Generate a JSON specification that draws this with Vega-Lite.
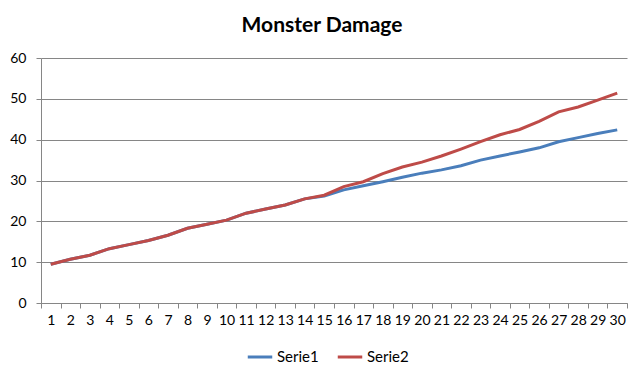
{
  "$schema": "https://vega.github.io/schema/vega-lite/v6.json",
  "width": 586,
  "height": 245,
  "autosize": {"type": "none"},
  "padding": {"left": 41, "top": 58, "right": 16, "bottom": 75},
  "background": "white",
  "title": {"text": "Monster Damage", "font": "Lato", "fontSize": 21, "fontWeight": "bold", "color": "#000000", "anchor": "middle", "dx": -12, "offset": 15},
  "config": {"view": {"stroke": null}, "font": "Lato"},
  "data": {"values": [
    {"x": 1, "s": "Serie1", "v": 9.5}, {"x": 1, "s": "Serie2", "v": 9.5},
    {"x": 2, "s": "Serie1", "v": 10.7}, {"x": 2, "s": "Serie2", "v": 10.7},
    {"x": 3, "s": "Serie1", "v": 11.7}, {"x": 3, "s": "Serie2", "v": 11.7},
    {"x": 4, "s": "Serie1", "v": 13.3}, {"x": 4, "s": "Serie2", "v": 13.3},
    {"x": 5, "s": "Serie1", "v": 14.3}, {"x": 5, "s": "Serie2", "v": 14.3},
    {"x": 6, "s": "Serie1", "v": 15.3}, {"x": 6, "s": "Serie2", "v": 15.3},
    {"x": 7, "s": "Serie1", "v": 16.6}, {"x": 7, "s": "Serie2", "v": 16.6},
    {"x": 8, "s": "Serie1", "v": 18.3}, {"x": 8, "s": "Serie2", "v": 18.3},
    {"x": 9, "s": "Serie1", "v": 19.3}, {"x": 9, "s": "Serie2", "v": 19.3},
    {"x": 10, "s": "Serie1", "v": 20.3}, {"x": 10, "s": "Serie2", "v": 20.3},
    {"x": 11, "s": "Serie1", "v": 22.0}, {"x": 11, "s": "Serie2", "v": 22.0},
    {"x": 12, "s": "Serie1", "v": 23.0}, {"x": 12, "s": "Serie2", "v": 23.0},
    {"x": 13, "s": "Serie1", "v": 24.0}, {"x": 13, "s": "Serie2", "v": 24.0},
    {"x": 14, "s": "Serie1", "v": 25.5}, {"x": 14, "s": "Serie2", "v": 25.5},
    {"x": 15, "s": "Serie1", "v": 26.2}, {"x": 15, "s": "Serie2", "v": 26.4},
    {"x": 16, "s": "Serie1", "v": 27.7}, {"x": 16, "s": "Serie2", "v": 28.5},
    {"x": 17, "s": "Serie1", "v": 28.7}, {"x": 17, "s": "Serie2", "v": 29.7},
    {"x": 18, "s": "Serie1", "v": 29.7}, {"x": 18, "s": "Serie2", "v": 31.7},
    {"x": 19, "s": "Serie1", "v": 30.8}, {"x": 19, "s": "Serie2", "v": 33.3},
    {"x": 20, "s": "Serie1", "v": 31.8}, {"x": 20, "s": "Serie2", "v": 34.5},
    {"x": 21, "s": "Serie1", "v": 32.6}, {"x": 21, "s": "Serie2", "v": 36.0},
    {"x": 22, "s": "Serie1", "v": 33.6}, {"x": 22, "s": "Serie2", "v": 37.7},
    {"x": 23, "s": "Serie1", "v": 35.0}, {"x": 23, "s": "Serie2", "v": 39.5},
    {"x": 24, "s": "Serie1", "v": 36.0}, {"x": 24, "s": "Serie2", "v": 41.2},
    {"x": 25, "s": "Serie1", "v": 37.0}, {"x": 25, "s": "Serie2", "v": 42.5},
    {"x": 26, "s": "Serie1", "v": 38.0}, {"x": 26, "s": "Serie2", "v": 44.5},
    {"x": 27, "s": "Serie1", "v": 39.5}, {"x": 27, "s": "Serie2", "v": 46.8},
    {"x": 28, "s": "Serie1", "v": 40.5}, {"x": 28, "s": "Serie2", "v": 48.0},
    {"x": 29, "s": "Serie1", "v": 41.5}, {"x": 29, "s": "Serie2", "v": 49.7},
    {"x": 30, "s": "Serie1", "v": 42.4}, {"x": 30, "s": "Serie2", "v": 51.4}
  ]},
  "mark": {"type": "line", "strokeWidth": 3, "interpolate": "linear"},
  "encoding": {
    "x": {"field": "x", "type": "ordinal", "sort": null,
      "scale": {"type": "band", "paddingInner": 0, "paddingOuter": 0},
      "axis": {"title": null, "labelAngle": 0, "labelFont": "Lato", "labelFontSize": 14, "labelColor": "#000000", "labelPadding": 5,
        "tickBand": "extent", "tickSize": 5, "tickColor": "#868686", "domainColor": "#868686", "grid": false, "labelOverlap": false}},
    "y": {"field": "v", "type": "quantitative",
      "scale": {"domain": [0, 60], "nice": false, "zero": true},
      "axis": {"title": null, "values": [0, 10, 20, 30, 40, 50, 60], "labelFont": "Lato", "labelFontSize": 14, "labelColor": "#000000", "labelPadding": 10,
        "tickSize": 5, "tickColor": "#868686", "domainColor": "#868686", "grid": true, "gridColor": "#868686", "gridOpacity": 1}},
    "color": {"field": "s", "type": "nominal",
      "scale": {"domain": ["Serie1", "Serie2"], "range": ["#4A7EBB", "#BE4B48"]},
      "legend": {"title": null, "orient": "none", "direction": "horizontal", "legendX": 205, "legendY": 285,
        "symbolType": "stroke", "symbolStrokeWidth": 3, "symbolSize": 600, "labelFont": "Lato", "labelFontSize": 15, "labelColor": "#000000", "columnPadding": 12, "labelOffset": 3}}
  }
}
